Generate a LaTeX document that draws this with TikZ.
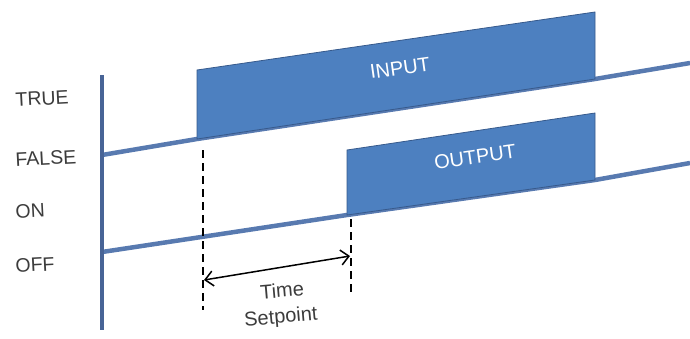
\documentclass[tikz,border=0pt]{standalone}
\usepackage{fontspec}
\setmainfont{Liberation Sans}
\usetikzlibrary{arrows.meta}

\definecolor{sigblue}{RGB}{88,122,176}
\definecolor{boxblue}{RGB}{77,128,192}
\definecolor{boxedge}{RGB}{55,90,140}
\definecolor{axisblue}{RGB}{72,100,150}
\definecolor{labelgray}{RGB}{60,60,60}

\begin{document}
\begin{tikzpicture}[
    x=1pt, y=-1pt,
    axis/.style={draw=axisblue, line width=4pt},
    signal/.style={draw=sigblue, line width=4.5pt, line join=round},
    pulse/.style={fill=boxblue, draw=boxedge, line width=0.8pt},
    level/.style={font=\fontsize{19.5}{21}\selectfont, text=labelgray, anchor=west, rotate=3},
    pulsetext/.style={font=\fontsize{20}{22}\selectfont, text=white, rotate=8},
    marker/.style={draw=black, line width=2.2pt, dash pattern=on 8pt off 5pt},
    span/.style={{Straight Barb[length=8pt,width=15pt]}-{Straight Barb[length=8pt,width=15pt]},
        draw=black, line width=1.5pt},
    note/.style={font=\fontsize{20}{22}\selectfont, text=labelgray, rotate=5},
]
\useasboundingbox (0,0) rectangle (690,338);

% level labels
\node[level] (true)  at (12,100) {TRUE};
\node[level] (false) at (12,160) {FALSE};
\node[level] (on)    at (12,212) {ON};
\node[level] (off)   at (12,266) {OFF};

% corner points of the two traces
\coordinate (inA)  at (102,155);
\coordinate (inB)  at (197,139);
\coordinate (inC)  at (595,79);
\coordinate (inD)  at (690,63);
\coordinate (outA) at (102,252);
\coordinate (outB) at (347,215);
\coordinate (outC) at (595,180);
\coordinate (outD) at (690,163);

% traces
\draw[signal] (inA) -- (inB) -- (inC) -- (inD);
\draw[signal] (outA) -- (outB) -- (outC) -- (outD);

% pulses
\draw[pulse] (inB) -- (197,70) -- (595,12) -- (inC) -- cycle;
\draw[pulse] (outB) -- (347,150) -- (595,113) -- (outC) -- cycle;
\node[pulsetext] (input)  at (400,68)  {INPUT};
\node[pulsetext] (output) at (475,157) {OUTPUT};

% axis
\coordinate (axtop) at (102,75);
\coordinate (axbot) at (102,330);
\draw[axis] (axtop) -- (axbot);

% delay markers
\coordinate (startbot) at (203,310);
\coordinate (stopbot)  at (351,292);
\draw[marker] (203,150) -- (startbot);
\draw[marker] (351,219) -- (stopbot);
\coordinate (spanL) at (204,280);
\coordinate (spanR) at (350,256);
\draw[span] (spanL) -- (spanR);
\node[note] (time) at (282,290) {Time};
\node[note] (setp) at (281,318) {Setpoint};
\end{tikzpicture}
\end{document}
